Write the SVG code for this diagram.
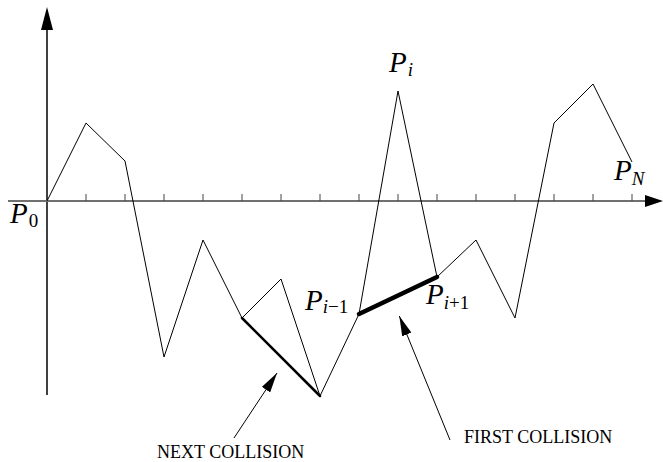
<svg xmlns="http://www.w3.org/2000/svg" width="663" height="462" viewBox="0 0 663 462">
<style>
.thin{fill:none;stroke:#000;stroke-width:1;stroke-linejoin:miter}
.math{font-family:"Liberation Serif","Times New Roman",serif;font-style:italic;font-size:29px;fill:#000}
.sub{font-size:19px}
.up{font-style:normal}
.lbl{font-family:"Liberation Serif","Times New Roman",serif;font-size:18px;fill:#000}
.tick{stroke:#444;stroke-width:1}
.head{fill:#000}
</style>
<defs>
<marker id="ar" viewBox="0 0 20 10" refX="20" refY="5" markerWidth="20" markerHeight="10" markerUnits="userSpaceOnUse" orient="auto">
<path d="M0,0 L20,5 L0,10 Z" fill="#000"/>
</marker>
</defs>
<g id="axes">
<line x1="47" y1="395" x2="47" y2="28" stroke="#000" stroke-width="1.5"/>
<polygon class="head" points="41,30 47,7 53,30"/>
<line x1="8" y1="201" x2="647" y2="201" stroke="#707070" stroke-width="2"/>
<polygon class="head" points="645,195 663,201 645,207"/>
<g id="ticks">
<line class="tick" x1="86" y1="194" x2="86" y2="201"/>
<line class="tick" x1="125" y1="194" x2="125" y2="201"/>
<line class="tick" x1="164" y1="194" x2="164" y2="201"/>
<line class="tick" x1="203" y1="194" x2="203" y2="201"/>
<line class="tick" x1="242" y1="194" x2="242" y2="201"/>
<line class="tick" x1="281" y1="194" x2="281" y2="201"/>
<line class="tick" x1="320" y1="194" x2="320" y2="201"/>
<line class="tick" x1="359" y1="194" x2="359" y2="201"/>
<line class="tick" x1="398" y1="194" x2="398" y2="201"/>
<line class="tick" x1="437" y1="194" x2="437" y2="201"/>
<line class="tick" x1="476" y1="194" x2="476" y2="201"/>
<line class="tick" x1="515" y1="194" x2="515" y2="201"/>
<line class="tick" x1="554" y1="194" x2="554" y2="201"/>
<line class="tick" x1="593" y1="194" x2="593" y2="201"/>
<line class="tick" x1="632" y1="194" x2="632" y2="201"/>
</g>
</g>
<g id="path">
<polyline class="thin" points="47,201 86,123 125,161 164,357 203,240 242,318 281,279 320,396 359,314 398,91 437,277 476,240 515,318 554,123 593,84 632,162"/>
</g>
<g id="collisions">
<line x1="359" y1="314" x2="437" y2="277" stroke="#000" stroke-width="4.5" stroke-linecap="round"/>
<line x1="242" y1="318" x2="320" y2="396" stroke="#000" stroke-width="2.5" stroke-linecap="round"/>
</g>
<g id="connectors">
<line x1="234" y1="438" x2="277" y2="373" stroke="#000" stroke-width="1" marker-end="url(#ar)"/>
<line x1="450" y1="440" x2="399.3" y2="316" stroke="#000" stroke-width="1" marker-end="url(#ar)"/>
</g>
<g id="labels">
<text class="math" x="10" y="223">P<tspan class="sub up" dx="1" dy="4">0</tspan></text>
<text class="math" x="389" y="72">P<tspan class="sub" dx="1" dy="4">i</tspan></text>
<text class="math" x="614" y="180">P<tspan class="sub" dy="5">N</tspan></text>
<text class="math" x="305" y="310">P<tspan class="sub" dy="3">i</tspan><tspan class="sub up">−1</tspan></text>
<text class="math" x="426" y="304">P<tspan class="sub" dy="5">i</tspan><tspan class="sub up">+1</tspan></text>
<text class="lbl" x="157" y="458">NEXT COLLISION</text>
<text class="lbl" x="464" y="443">FIRST COLLISION</text>
</g>
</svg>
